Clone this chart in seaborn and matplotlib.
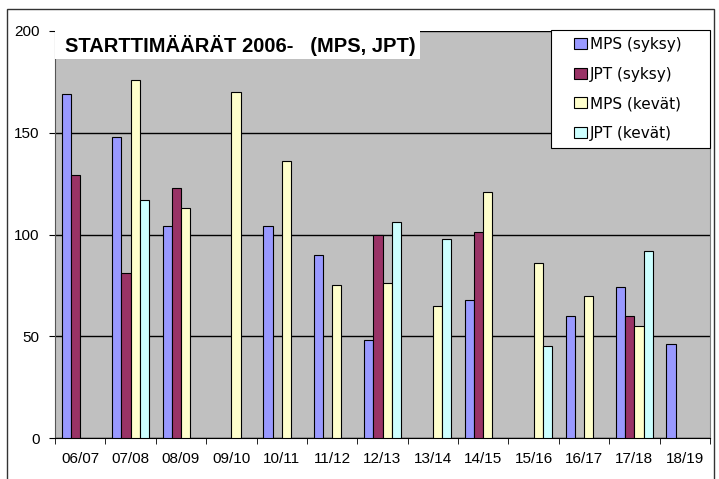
import matplotlib
matplotlib.use('Agg')
import matplotlib.pyplot as plt
from matplotlib.patches import Rectangle
from matplotlib.ticker import FixedLocator
import numpy as np
import pandas as pd
import seaborn as sns

# Datos del grafico (NaN = sin barra)
kaudet = ['06/07', '07/08', '08/09', '09/10', '10/11', '11/12', '12/13',
          '13/14', '14/15', '15/16', '16/17', '17/18', '18/19']
sarjat = ['MPS (syksy)', 'JPT (syksy)', 'MPS (kevät)', 'JPT (kevät)']
nan = np.nan
mps_syksy = [169, 148, 104, nan, 104, 90, 48, nan, 68, nan, 60, 74, 46]
jpt_syksy = [129, 81, 123, nan, nan, nan, 100, nan, 101, nan, nan, 60, nan]
mps_kevat = [nan, 176, 113, 170, 136, 75, 76, 65, 121, 86, 70, 55, nan]
jpt_kevat = [nan, 117, nan, nan, nan, nan, 106, 98, nan, 45, nan, 92, nan]
varit = ['#9999FF', '#993366', '#FFFFCC', '#CCFFFF']
otsikko = 'STARTTIMÄÄRÄT 2006-   (MPS, JPT)'

rows = []
for nimi, arvot in zip(sarjat, [mps_syksy, jpt_syksy, mps_kevat, jpt_kevat]):
    for k, v in zip(kaudet, arvot):
        rows.append({'kausi': k, 'sarja': nimi, 'arvo': v})
df = pd.DataFrame(rows)

W, H = 719, 479
fig = plt.figure(figsize=(W / 100, H / 100), dpi=100)
ax = fig.add_axes([55 / W, 41 / H, 655 / W, 407 / H])
ax.set_facecolor('#C0C0C0')

sns.barplot(data=df, x='kausi', y='arvo', hue='sarja', order=kaudet,
            hue_order=sarjat, palette=varit, width=0.73, errorbar=None,
            edgecolor='black', linewidth=0.8, saturation=1, ax=ax, zorder=3)

ax.set_xlim(-0.5, 12.5)
ax.set_ylim(0, 200)
ax.set_yticks([0, 50, 100, 150, 200])
ax.grid(axis='y', color='black', linewidth=1, zorder=1)
ax.set_axisbelow(True)
ax.set_xlabel('')
ax.set_ylabel('')

# ticks entre grupos
ax.tick_params(axis='x', which='major', length=0, pad=10)
ax.xaxis.set_minor_locator(FixedLocator(np.arange(-0.5, 13, 1)))
ax.tick_params(axis='x', which='minor', length=4, color='black')
ax.tick_params(axis='y', length=4, pad=7)
for lab in ax.get_xticklabels() + ax.get_yticklabels():
    lab.set_family('Liberation Sans')
    lab.set_fontsize(11)

ax.spines['top'].set_visible(False)
ax.spines['right'].set_color('#808080')
ax.spines['left'].set_color('#555555')
ax.spines['bottom'].set_color('black')

# caja del titulo
ax.add_patch(Rectangle((0, (438 - 59) / 407), (420 - 55) / 655, 1, transform=ax.transAxes,
                       facecolor='white', edgecolor='none', zorder=5, clip_on=False))
ax.text(10 / 655, (438 - 45) / 407, otsikko, transform=ax.transAxes, family='Liberation Sans',
        fontweight='bold', fontsize=14.5, va='center', ha='left', zorder=6)

# leyenda: caja dibujada aparte
ax.add_patch(Rectangle((551 / W, 1 - 148 / H), 159 / W, 118 / H, transform=fig.transFigure,
                       facecolor='white', edgecolor='black', linewidth=0.8, zorder=6,
                       clip_on=False))
leg = ax.legend(loc='upper left', bbox_to_anchor=(574 / W, 1 - 37 / H),
                bbox_transform=fig.transFigure, frameon=False, borderaxespad=0,
                borderpad=0, prop={'family': 'DejaVu Sans', 'size': 11},
                handlelength=0.85, handleheight=0.7, handletextpad=0.2,
                labelspacing=0.95, title=None)
leg.set_zorder(7)

# marco exterior
fig.add_artist(Rectangle((7 / W, -0.1), 707 / W, 1.1 - 9 / H, transform=fig.transFigure,
                         fill=False, edgecolor='#333333', linewidth=1))

fig.savefig('out.png', dpi=100)
